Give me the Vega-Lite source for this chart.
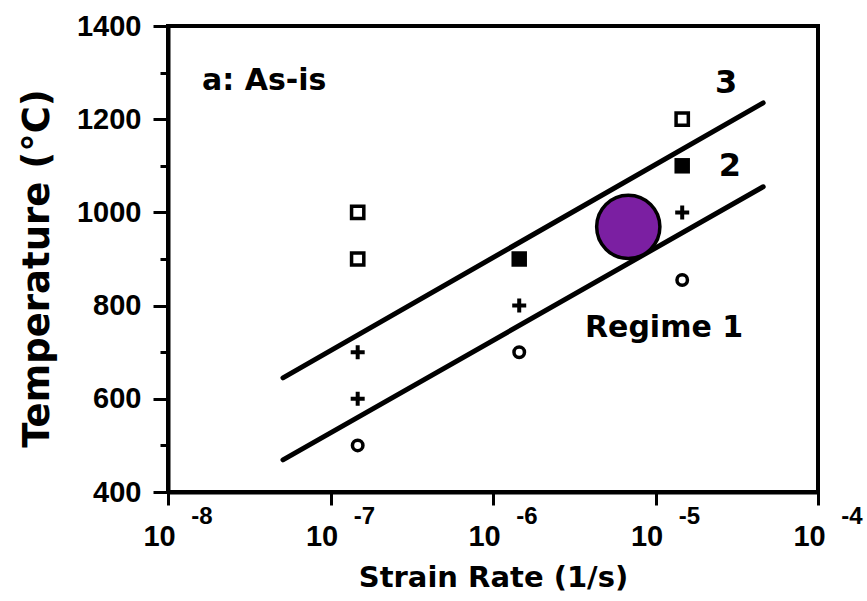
{
  "$schema": "https://vega.github.io/schema/vega-lite/v6.json",
  "width": 650,
  "height": 466,
  "autosize": "none",
  "padding": {"left": 168, "top": 26, "right": 49, "bottom": 109},
  "background": "white",
  "config": {
    "view": {"stroke": "black", "strokeWidth": 4},
    "font": "DejaVu Sans"
  },
  "datasets": {
    "lines": [
      {"line": "upper", "rate": 5.1e-8, "temp": 645},
      {"line": "upper", "rate": 4.6e-5, "temp": 1235},
      {"line": "lower", "rate": 5.1e-8, "temp": 469},
      {"line": "lower", "rate": 4.6e-5, "temp": 1055}
    ],
    "points": [
      {"rate": 1.47e-7, "temp": 1000, "marker": "open square"},
      {"rate": 1.47e-7, "temp": 900, "marker": "open square"},
      {"rate": 1.47e-7, "temp": 700, "marker": "plus"},
      {"rate": 1.47e-7, "temp": 600, "marker": "plus"},
      {"rate": 1.47e-7, "temp": 500, "marker": "open circle"},
      {"rate": 1.45e-6, "temp": 900, "marker": "filled square"},
      {"rate": 1.45e-6, "temp": 800, "marker": "plus"},
      {"rate": 1.45e-6, "temp": 700, "marker": "open circle"},
      {"rate": 1.46e-5, "temp": 1200, "marker": "open square"},
      {"rate": 1.46e-5, "temp": 1100, "marker": "filled square"},
      {"rate": 1.46e-5, "temp": 1000, "marker": "plus"},
      {"rate": 1.46e-5, "temp": 855, "marker": "open circle"}
    ],
    "bubble": [
      {"rate": 6.8e-6, "temp": 969}
    ],
    "leftLabels": [
      {"rate": 1.62e-8, "temp": 1282, "label": "a: As-is"},
      {"rate": 3.68e-6, "temp": 752, "label": "Regime 1"}
    ],
    "regimeNumbers": [
      {"rate": 2.72e-5, "temp": 1278, "label": "3"},
      {"rate": 2.87e-5, "temp": 1100, "label": "2"}
    ],
    "exponents": [
      {"rate": 1e-8, "temp": 400, "exp": "-8"},
      {"rate": 1e-7, "temp": 400, "exp": "-7"},
      {"rate": 1e-6, "temp": 400, "exp": "-6"},
      {"rate": 1e-5, "temp": 400, "exp": "-5"},
      {"rate": 1e-4, "temp": 400, "exp": "-4"}
    ]
  },
  "encoding": {
    "x": {
      "field": "rate",
      "type": "quantitative",
      "scale": {"type": "log", "domain": [1e-8, 1e-4], "nice": false},
      "axis": {
        "title": "Strain Rate (1/s)",
        "values": [1e-8, 1e-7, 1e-6, 1e-5, 1e-4],
        "labelExpr": "'10'",
        "labelFont": "Liberation Sans",
        "labelFontWeight": "bold",
        "labelFontSize": 29,
        "labelColor": "black",
        "labelOffset": -9,
        "labelPadding": 17,
        "labelFlush": false,
        "labelOverlap": false,
        "tickSize": 13,
        "tickWidth": 3,
        "tickColor": "black",
        "domainColor": "black",
        "domainWidth": 4,
        "grid": false,
        "titleFont": "DejaVu Sans",
        "titleFontWeight": "bold",
        "titleFontSize": 29,
        "titleColor": "black",
        "titlePadding": 12
      }
    },
    "y": {
      "field": "temp",
      "type": "quantitative",
      "scale": {"domain": [400, 1400], "nice": false, "zero": false},
      "axis": {
        "title": "Temperature (°C)",
        "values": [400, 500, 600, 700, 800, 900, 1000, 1100, 1200, 1300, 1400],
        "labelExpr": "datum.value % 200 === 0 ? datum.label : ''",
        "format": "d",
        "labelFont": "Liberation Sans",
        "labelFontWeight": "bold",
        "labelFontSize": 29,
        "labelColor": "black",
        "labelPadding": 12,
        "labelFlush": false,
        "labelOverlap": false,
        "tickSize": {"condition": {"test": "datum.value % 200 === 0", "value": 15}, "value": 8},
        "tickWidth": 3,
        "tickColor": "black",
        "domainColor": "black",
        "domainWidth": 4,
        "grid": false,
        "titleFont": "DejaVu Sans",
        "titleFontWeight": "bold",
        "titleFontSize": 37,
        "titleColor": "black",
        "titleX": -131,
        "titleY": 242,
        "titleBaseline": "middle",
        "titleAlign": "center"
      }
    }
  },
  "layer": [
    {
      "data": {"name": "lines"},
      "mark": {"type": "line", "color": "black", "strokeWidth": 5, "strokeCap": "round", "clip": false},
      "encoding": {"detail": {"field": "line"}}
    },
    {
      "data": {"name": "points"},
      "transform": [{"filter": "datum.marker === 'open square'"}],
      "mark": {"type": "point", "shape": "square", "filled": false, "stroke": "black", "strokeWidth": 3.5, "size": 150, "opacity": 1}
    },
    {
      "data": {"name": "points"},
      "transform": [{"filter": "datum.marker === 'filled square'"}],
      "mark": {"type": "point", "shape": "square", "filled": true, "fill": "black", "size": 240, "opacity": 1}
    },
    {
      "data": {"name": "points"},
      "transform": [{"filter": "datum.marker === 'plus'"}],
      "mark": {"type": "point", "shape": "M-1,0H1M0,-1V1", "filled": false, "stroke": "black", "strokeWidth": 4, "size": 196, "opacity": 1}
    },
    {
      "data": {"name": "points"},
      "transform": [{"filter": "datum.marker === 'open circle'"}],
      "mark": {"type": "point", "shape": "circle", "filled": false, "stroke": "black", "strokeWidth": 3.5, "size": 110, "opacity": 1}
    },
    {
      "data": {"name": "bubble"},
      "mark": {"type": "point", "shape": "circle", "filled": true, "fill": "#7B1FA2", "stroke": "black", "strokeWidth": 3.5, "size": 4000, "opacity": 1, "fillOpacity": 1, "strokeOpacity": 1}
    },
    {
      "data": {"name": "leftLabels"},
      "mark": {"type": "text", "font": "DejaVu Sans", "fontWeight": "bold", "fontSize": 30, "baseline": "middle", "align": "left", "color": "black"},
      "encoding": {"text": {"field": "label"}}
    },
    {
      "data": {"name": "regimeNumbers"},
      "mark": {"type": "text", "font": "DejaVu Sans", "fontWeight": "bold", "fontSize": 32, "baseline": "middle", "align": "center", "color": "black"},
      "encoding": {"text": {"field": "label"}}
    },
    {
      "data": {"name": "exponents"},
      "mark": {"type": "text", "font": "Liberation Sans", "fontWeight": "bold", "fontSize": 24, "baseline": "middle", "align": "center", "dx": 34, "dy": 25, "fill": "black"},
      "encoding": {
        "text": {"field": "exp", "type": "nominal"}
      }
    }
  ]
}
